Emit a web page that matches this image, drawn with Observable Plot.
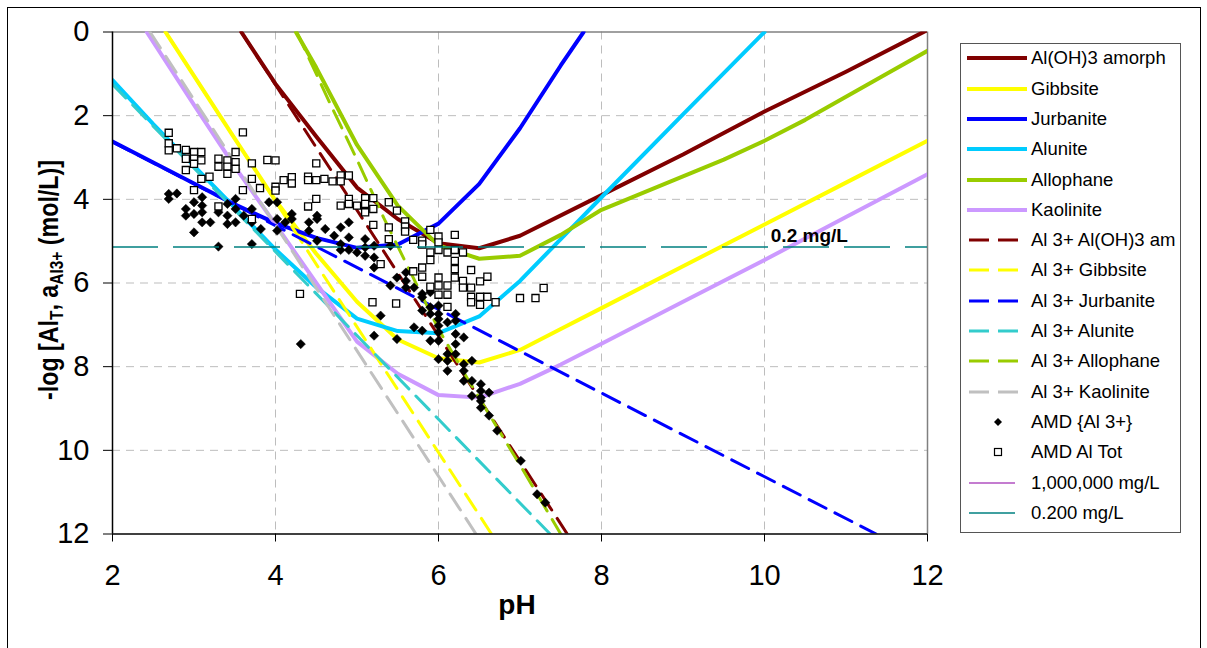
<!DOCTYPE html>
<html><head><meta charset="utf-8">
<script src="https://cdn.jsdelivr.net/npm/d3@7"></script>
<script src="https://cdn.jsdelivr.net/npm/@observablehq/plot@0.6"></script>
<style>
body{margin:0;background:#fff;font-family:"Liberation Sans",Arial,sans-serif;}
#wrap{position:relative;width:1207px;height:648px;overflow:hidden;background:#fff;}
#chart{position:absolute;left:0;top:0;}
#frame{position:absolute;left:7px;top:7px;width:1192px;height:660px;border:1.5px solid #000;pointer-events:none;}
#legend{position:absolute;left:960px;top:43px;width:219px;height:488px;border:1px solid #555;background:#fff;}
.lrow{position:absolute;left:0;width:219px;height:24px;}
.lrow svg{position:absolute;left:6px;top:0;}
.lrow span{position:absolute;left:70px;top:1px;font-size:18.5px;line-height:22px;color:#000;white-space:nowrap;}
</style></head>
<body><div id="wrap"><div id="chart"></div><div id="legend"></div><div id="frame"></div></div>
<script>
// ---- data ----
const xDomain = [2, 12];
const yDomain = [0, 12];
const xTicks = [2, 4, 6, 8, 10, 12];
const yTicks = [0, 2, 4, 6, 8, 10, 12];

const amorphPH  = [3.58, 4, 4.5, 5, 5.5, 6, 6.5, 7, 8, 9, 10, 11, 12];
const amorphLog = [0, 1.24, 2.5, 3.72, 4.47, 5.05, 5.17, 4.87, 3.9, 2.93, 1.9, 0.95, -0.05];

const gibbsitePH  = [2.65, 3, 3.5, 4, 4.5, 5, 5.5, 6, 6.5, 7, 7.5, 8, 9, 10, 11, 12];
const gibbsiteLog = [0, 1.05, 2.55, 4.03, 5.3, 6.45, 7.35, 7.8, 7.9, 7.6, 7.1, 6.6, 5.6, 4.6, 3.6, 2.6];

const jurbanitePH  = [2, 2.5, 3, 3.5, 4, 4.5, 5, 5.5, 6, 6.5, 7, 7.5, 7.78];
const jurbaniteLog = [2.62, 3.12, 3.62, 4.12, 4.57, 4.92, 5.16, 5.08, 4.58, 3.63, 2.3, 0.8, 0];

const alunitePH  = [2, 2.5, 3, 3.5, 4, 4.5, 5, 5.5, 6, 6.5, 7, 7.5, 8, 9, 10];
const aluniteLog = [1.15, 2.2, 3.2, 4.2, 5.2, 6.1, 6.85, 7.15, 7.2, 6.8, 5.95, 4.95, 3.95, 1.97, 0];

const allophanePH  = [4.25, 4.5, 5, 5.5, 6, 6.5, 7, 7.5, 8, 8.5, 9, 9.5, 10, 10.5, 11, 11.5, 12];
const allophaneLog = [0, 0.85, 2.7, 4.15, 5.1, 5.42, 5.35, 4.85, 4.25, 3.85, 3.45, 3.05, 2.6, 2.1, 1.55, 1.0, 0.45];

const kaolinitePH  = [2.42, 3, 3.5, 4, 4.5, 5, 5.5, 6, 6.5, 7, 7.5, 8, 9, 10, 11, 12];
const kaoliniteLog = [0, 1.74, 3.22, 4.6, 6.0, 7.4, 8.17, 8.68, 8.74, 8.41, 7.95, 7.45, 6.45, 5.45, 4.42, 3.4];

const al3AmorphPH = [3.58, 7.58],  al3AmorphLog = [0, 12];
const al3GibbsitePH = [2.65, 6.65], al3GibbsiteLog = [0, 12];
const al3JurbanitePH = [2, 11.37], al3JurbaniteLog = [2.63, 12];
const al3AlunitePH = [2, 7.37], al3AluniteLog = [1.25, 12];
const al3AllophanePH = [4.26, 4.67, 5, 5.33, 6, 6.36, 7, 7.5];
const al3AllophaneLog = [0, 1.71, 3.05, 4.45, 7.1, 8.3, 10.35, 12];
const al3KaolinitePH = [2.46, 6.46], al3KaoliniteLog = [0, 12];

const amdAl3PH = [2.69,2.69,2.79,2.90,2.90,3.00,3.00,3.10,3.10,3.10,3.00,3.10,3.20,3.30,3.41,3.41,3.51,3.51,3.51,3.41,3.61,3.71,3.71,3.82,3.30,3.71,3.92,4.02,4.02,4.02,4.12,4.20,4.20,4.41,4.41,4.51,4.51,4.51,4.61,4.72,4.80,4.80,4.80,4.90,4.90,4.90,5.00,5.10,5.10,5.10,5.21,5.21,5.21,5.41,5.49,
 4.31,5.41,5.60,5.60,5.60,5.70,5.80,5.80,5.90,5.29,5.49,5.21,
 5.80,5.90,5.90,6.00,6.00,6.00,6.00,6.11,6.21,6.21,5.70,5.80,5.90,6.00,6.00,6.21,6.21,6.31,6.11,6.21,6.00,6.11,6.11,6.41,6.31,6.31,6.31,6.41,6.52,6.52,6.62,6.41,6.52,6.52,6.52,6.62,6.72,7.01,7.21,7.31];
const amdAl3Log = [3.87,3.99,3.86,4.23,4.39,4.07,4.35,3.95,4.15,4.31,4.79,4.55,4.55,4.31,4.11,4.39,3.99,4.23,4.55,4.59,4.39,4.23,4.55,4.71,5.13,5.07,4.07,4.07,4.47,4.75,4.55,4.35,4.47,4.55,4.75,4.39,4.47,4.99,4.71,4.87,4.67,5.07,5.21,4.55,4.91,5.21,5.27,4.95,5.15,5.35,5.11,5.39,5.63,6.06,5.87,
 7.46,5.11,5.75,5.95,6.11,6.11,6.26,6.34,6.22,6.78,7.34,7.26,
 6.66,6.58,6.74,6.54,6.74,6.86,7.02,6.94,6.74,6.90,7.06,7.14,7.38,7.18,7.38,7.22,7.46,7.30,7.70,7.70,7.82,7.86,8.10,7.86,7.94,8.10,8.34,8.34,8.42,8.58,8.62,8.70,8.74,8.82,8.98,9.17,9.53,10.25,11.05,11.25];

const amdAlTotPH = [2.69,2.69,2.69,2.79,2.90,2.90,3.00,3.00,3.00,3.09,3.09,2.90,3.09,3.19,3.00,3.30,3.30,3.41,3.41,3.41,3.51,3.51,3.51,3.60,3.71,3.71,3.60,3.81,3.71,3.30,3.90,4.00,4.00,4.00,4.10,4.20,4.20,4.30,4.40,4.40,4.50,4.60,4.70,4.80,4.80,4.90,4.50,4.50,4.40,4.80,4.90,4.90,5.00,5.10,5.10,5.10,5.20,5.20,5.20,5.29,5.39,5.39,5.39,5.49,5.59,5.59,5.59,5.90,5.69,5.80,5.80,6.00,6.00,6.00,6.11,6.20,6.20,6.30,5.90,5.90,5.69,5.80,5.80,6.00,6.00,6.00,6.11,6.11,6.20,6.20,6.20,6.30,6.30,6.40,6.40,6.40,6.40,6.51,6.51,6.51,6.60,6.60,6.70,5.48,6.11,7.00,7.19,7.29,5.19,5.90];
const amdAlTotLog = [2.41,2.66,2.83,2.78,2.82,3.03,2.87,3.03,3.15,2.87,3.07,3.30,3.51,3.46,3.78,3.03,3.22,3.07,3.22,3.39,2.87,3.11,3.27,2.40,3.14,3.51,3.78,3.73,4.47,4.17,3.06,3.07,3.70,3.79,3.54,3.47,3.62,6.26,3.46,3.54,3.54,3.51,3.57,3.43,3.57,3.43,3.14,3.99,4.17,4.15,3.99,4.11,4.15,3.97,4.11,4.31,3.97,4.23,4.61,5.55,4.07,4.67,4.95,4.27,4.53,4.65,4.77,4.73,4.97,4.99,5.08,4.89,5.03,5.21,5.27,4.85,5.21,5.27,5.27,5.45,5.72,5.63,5.85,5.87,6.06,6.28,6.06,6.28,5.47,5.67,5.87,5.95,6.11,5.69,6.11,6.33,6.46,5.96,6.33,6.52,5.85,6.33,6.46,6.49,6.57,6.36,6.36,6.12,6.46,6.09];

const limitNames = ["1,000,000 mg/L", "0.200 mg/L"];
const limitLog = [-1.57, 5.14];
const limitLabel = "0.2 mg/L";
const limitLabelPH = 10.55;

const curveNames = ["Al(OH)3 amorph","Gibbsite","Jurbanite","Alunite","Allophane","Kaolinite",
  "Al 3+ Al(OH)3 am","Al 3+ Gibbsite","Al 3+ Jurbanite","Al 3+ Alunite","Al 3+ Allophane","Al 3+ Kaolinite"];
const curvePH = [amorphPH, gibbsitePH, jurbanitePH, alunitePH, allophanePH, kaolinitePH,
  al3AmorphPH, al3GibbsitePH, al3JurbanitePH, al3AlunitePH, al3AllophanePH, al3KaolinitePH];
const curveLog = [amorphLog, gibbsiteLog, jurbaniteLog, aluniteLog, allophaneLog, kaoliniteLog,
  al3AmorphLog, al3GibbsiteLog, al3JurbaniteLog, al3AluniteLog, al3AllophaneLog, al3KaoliniteLog];
const scatterNames = ["AMD {Al 3+}", "AMD Al Tot"];

// ---- styles ----
const curveColors = ["#800000","#FFFF00","#0000FF","#00CCFF","#99CC00","#CC99FF",
  "#800000","#FFFF00","#0000FF","#33CCCC","#99CC00","#C0C0C0"];
const limitColors = ["#B050C0", "#008080"];
const DASH = "19,10";

const curveData = curveNames.map((n, k) => curvePH[k].map((p, i) => ({series: n, x: p, y: curveLog[k][i]})));
const zip = (a, b) => a.map((p, i) => ({x: p, y: b[i]}));

const marks = [
  Plot.gridX(xTicks.slice(1, -1), {stroke: "#bdbdbd", strokeOpacity: 1, strokeDasharray: "8,6"}),
  Plot.gridY(yTicks.slice(1, -1), {stroke: "#bdbdbd", strokeOpacity: 1, strokeDasharray: "8,6"}),
  Plot.ruleY([yDomain[0]], {stroke: "#808080", strokeWidth: 1.5}),
  Plot.ruleX([xDomain[1]], {stroke: "#808080", strokeWidth: 1.5}),
];
curveData.forEach((d, k) => {
  const dashed = k >= 6;
  marks.push(Plot.line(d, {x: "x", y: "y", stroke: curveColors[k], strokeWidth: dashed ? 3 : 4,
    strokeDasharray: dashed ? DASH : "none", clip: true}));
});
marks.push(
  Plot.dot(zip(amdAl3PH, amdAl3Log), {x: "x", y: "y", symbol: "diamond2", r: 4.2, fill: "#000", stroke: "#000", strokeWidth: 0.5}),
  Plot.dot(zip(amdAlTotPH, amdAlTotLog), {x: "x", y: "y", symbol: "square", r: 4.0, fill: "#fff", stroke: "#000", strokeWidth: 1.3}),
  Plot.ruleY([limitLog[0]], {stroke: limitColors[0], strokeWidth: 1.2, clip: true}),
  Plot.ruleY([limitLog[1]], {stroke: limitColors[1], strokeWidth: 1.3, strokeDasharray: "46,15"}),
  Plot.text([limitLog[1]], {x: () => limitLabelPH, y: d => d, text: () => limitLabel, dy: -11,
    fontSize: 19, fontWeight: "bold", fill: "#000"}),
  Plot.ruleX([xDomain[0]], {stroke: "#000", strokeWidth: 1.5}),
  Plot.ruleY([yDomain[1]], {stroke: "#000", strokeWidth: 1.5}),
  Plot.axisX(xTicks, {fontSize: 29, tickSize: 8, tickPadding: 22, label: null, fill: "#000", stroke: "#000"}),
  Plot.axisY(yTicks, {fontSize: 29, tickSize: 9, tickPadding: 14, label: null, fill: "#000", stroke: "#000"})
);

const chart = Plot.plot({
  width: 1207, height: 648,
  marginLeft: 112, marginRight: 280, marginTop: 31.5, marginBottom: 114.5,
  x: {domain: xDomain, label: null},
  y: {domain: yDomain, reverse: true, label: null},
  style: {background: "transparent", fontFamily: "Liberation Sans, Arial, sans-serif", overflow: "visible", color: "#000"},
  marks
});
document.getElementById("chart").appendChild(chart);

// axis titles
const svg = d3.select(chart);
svg.append("text").attr("x", 517).attr("y", 614).attr("text-anchor", "middle")
  .attr("font-size", 28).attr("font-weight", "bold").attr("fill", "#000")
  .attr("font-family", "Liberation Sans, Arial, sans-serif").text("pH");
const yl = svg.append("text").attr("transform", "translate(58,280) rotate(-90) scale(0.86,1)")
  .attr("text-anchor", "middle").attr("font-size", 27).attr("font-weight", "bold").attr("fill", "#000")
  .attr("font-family", "Liberation Sans, Arial, sans-serif");
yl.append("tspan").text("-log [Al");
yl.append("tspan").attr("font-size", 18).attr("dy", 5).text("T");
yl.append("tspan").attr("dy", -5).text(", a");
yl.append("tspan").attr("font-size", 18).attr("dy", 5).text("Al3+");
yl.append("tspan").attr("dy", -5).text(" (mol/L)]");

// legend
const legend = document.getElementById("legend");
const items = [];
curveNames.forEach((n, k) => items.push({name: n, type: k >= 6 ? "dash" : "solid", color: curveColors[k]}));
items.push({name: scatterNames[0], type: "diamond"}, {name: scatterNames[1], type: "square"});
limitNames.forEach((n, k) => items.push({name: n, type: "thin", color: limitColors[k]}));
items.forEach((it, i) => {
  const row = document.createElement("div");
  row.className = "lrow";
  row.style.top = (14.3 + i * 30.3 - 12) + "px";
  let sw = "";
  if (it.type === "solid") sw = `<line x1="0" x2="60" y1="12" y2="12" stroke="${it.color}" stroke-width="4"/>`;
  else if (it.type === "dash") sw = `<line x1="2" x2="51" y1="12" y2="12" stroke="${it.color}" stroke-width="3" stroke-dasharray="20,9"/>`;
  else if (it.type === "thin") sw = `<line x1="2" x2="48" y1="12" y2="12" stroke="${it.color}" stroke-width="1.3"/>`;
  else if (it.type === "diamond") sw = `<path d="M31,8 L35,12 L31,16 L27,12 Z" fill="#000"/>`;
  else sw = `<rect x="27.5" y="8.5" width="7" height="7" fill="#fff" stroke="#000" stroke-width="1.2"/>`;
  row.innerHTML = `<svg width="62" height="24">${sw}</svg><span>${it.name}</span>`;
  legend.appendChild(row);
});
</script></body></html>
